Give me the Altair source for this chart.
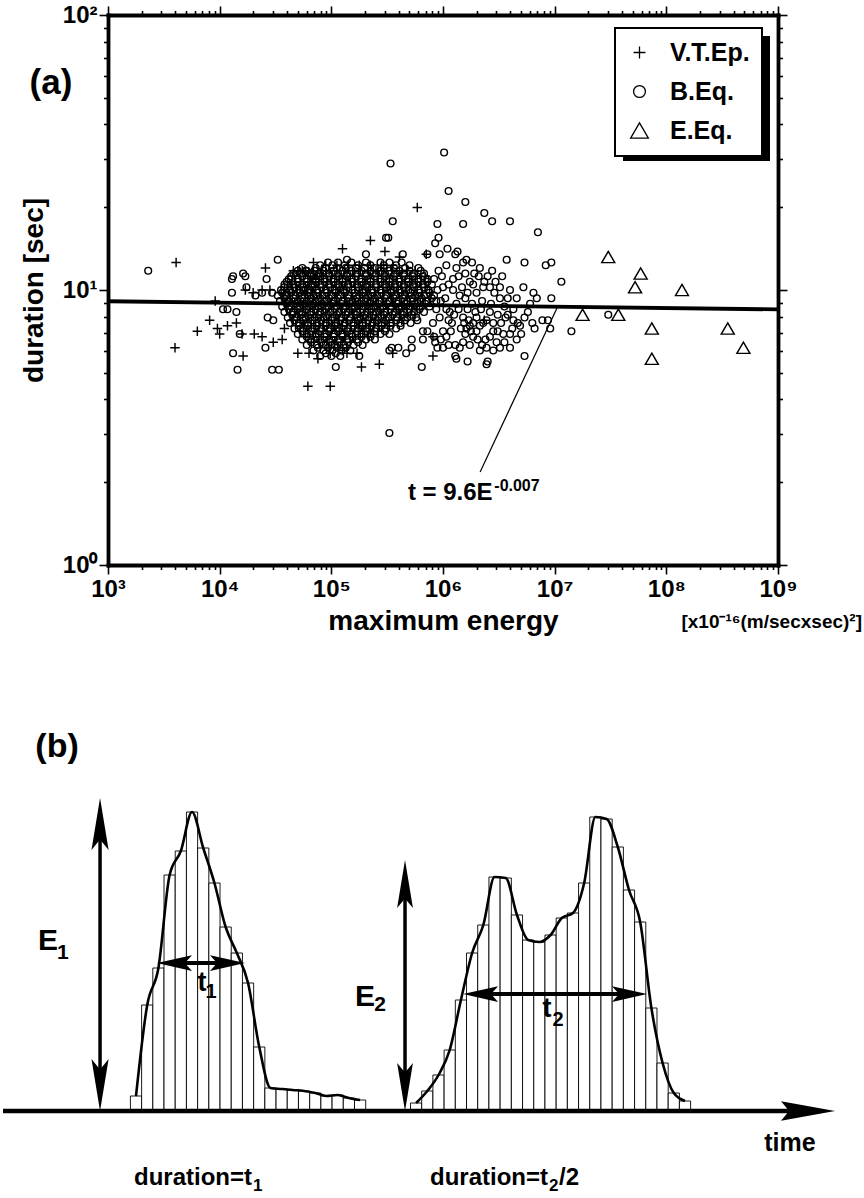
import altair as alt
import pandas as pd

FONT = "Liberation Sans"

# ===================== (a) scatter values: (log10 maximum energy, log10 duration) =====================
series_names = ["V.T.Ep.", "B.Eq.", "E.Eq."]

vt_ep_scattered = [
    (3.61, 1.10), (3.60, 0.79), (3.80, 0.85), (3.91, 0.89), (3.96, 0.96), (3.98, 0.86),
    (4.00, 0.84), (4.07, 0.87), (4.15, 0.88), (4.20, 0.84), (4.21, 0.76), (4.23, 1.00),
    (4.30, 0.99), (4.31, 0.84), (4.38, 1.00), (4.38, 0.83), (4.41, 1.08), (4.45, 1.00),
    (4.48, 0.81), (4.56, 0.82), (4.58, 0.86), (4.64, 1.02), (4.66, 1.07), (4.74, 1.07),
    (4.70, 0.77), (4.79, 0.65), (4.80, 0.77), (4.84, 1.10), (4.88, 0.75), (4.99, 0.65),
    (4.99, 0.77), (5.10, 1.15), (5.10, 0.78), (5.14, 0.77), (5.23, 0.77), (5.27, 0.72),
    (5.35, 1.18), (5.43, 0.73), (5.48, 1.14), (5.55, 0.77), (5.61, 1.12), (5.77, 1.30),
    (5.85, 1.13), (5.91, 0.76), (5.91, 0.83), (6.37, 0.89),
]
# dense (black) core of V.T.Ep., read row by row: log10 duration -> log10 energies
vt_ep_core_rows = {
    1.09: [4.95, 5.05, 5.15, 5.25, 5.35, 5.45, 5.55],
    1.07: [4.70, 4.77, 4.84, 4.91, 4.98, 5.05, 5.12, 5.19, 5.26, 5.33, 5.40, 5.47, 5.54, 5.61, 5.68, 5.75],
    1.05: [4.65, 4.72, 4.79, 4.86, 4.93, 5.00, 5.07, 5.14, 5.21, 5.28, 5.35, 5.42, 5.49, 5.56, 5.63, 5.70, 5.77, 5.84],
    1.03: [4.61, 4.68, 4.75, 4.82, 4.89, 4.96, 5.03, 5.10, 5.17, 5.24, 5.31, 5.38, 5.45, 5.52, 5.59, 5.66, 5.73, 5.80, 5.87],
    1.01: [4.58, 4.65, 4.72, 4.79, 4.86, 4.93, 5.00, 5.07, 5.14, 5.21, 5.28, 5.35, 5.42, 5.49, 5.56, 5.63, 5.70, 5.77, 5.84],
    0.99: [4.55, 4.62, 4.69, 4.76, 4.83, 4.90, 4.97, 5.04, 5.11, 5.18, 5.25, 5.32, 5.39, 5.46, 5.53, 5.60, 5.67, 5.74, 5.81, 5.88],
    0.97: [4.56, 4.63, 4.70, 4.77, 4.84, 4.91, 4.98, 5.05, 5.12, 5.19, 5.26, 5.33, 5.40, 5.47, 5.54, 5.61, 5.68, 5.75, 5.82, 5.89],
    0.95: [4.58, 4.65, 4.72, 4.79, 4.86, 4.93, 5.00, 5.07, 5.14, 5.21, 5.28, 5.35, 5.42, 5.49, 5.56, 5.63, 5.70, 5.77, 5.84],
    0.93: [4.60, 4.67, 4.74, 4.81, 4.88, 4.95, 5.02, 5.09, 5.16, 5.23, 5.30, 5.37, 5.44, 5.51, 5.58, 5.65, 5.72, 5.79],
    0.91: [4.63, 4.70, 4.77, 4.84, 4.91, 4.98, 5.05, 5.12, 5.19, 5.26, 5.33, 5.40, 5.47, 5.54, 5.61, 5.68, 5.75],
    0.89: [4.65, 4.72, 4.79, 4.86, 4.93, 5.00, 5.07, 5.14, 5.21, 5.28, 5.35, 5.42, 5.49, 5.56, 5.63],
    0.87: [4.68, 4.75, 4.82, 4.89, 4.96, 5.03, 5.10, 5.17, 5.24, 5.31, 5.38, 5.45, 5.52],
    0.85: [4.72, 4.79, 4.86, 4.93, 5.00, 5.07, 5.14, 5.21, 5.28, 5.35, 5.42],
    0.83: [4.77, 4.84, 4.91, 4.98, 5.05, 5.12, 5.19, 5.26, 5.33],
    0.81: [4.82, 4.89, 4.96, 5.03, 5.10, 5.17],
    0.79: [4.90, 4.98, 5.06, 5.14],
}

b_eq_scattered = [
    (3.36, 1.07),
    (4.03, 0.93), (4.07, 0.93), (4.11, 1.04), (4.12, 1.05), (4.11, 0.99), (4.12, 0.77),
    (4.15, 0.92), (4.16, 0.71), (4.18, 0.84), (4.21, 1.06), (4.23, 1.05), (4.24, 1.01),
    (4.32, 0.98), (4.38, 0.99), (4.41, 0.79), (4.42, 1.04), (4.43, 0.90), (4.47, 0.99),
    (4.47, 0.71), (4.48, 0.89), (4.52, 1.11), (4.53, 0.71), (4.60, 0.99), (4.75, 1.00),
    (4.78, 1.07), (4.81, 1.00), (4.84, 1.05), (4.87, 1.05),
    (5.04, 0.72), (5.25, 0.76), (5.52, 0.48), (5.81, 0.72),
    (6.01, 1.50), (5.53, 1.46), (6.05, 1.36), (6.20, 1.32), (5.55, 1.25), (6.37, 1.28),
    (6.44, 1.25), (6.60, 1.25), (5.95, 1.24), (6.18, 1.24), (6.85, 1.21), (5.96, 1.19),
    (5.93, 1.17), (5.49, 1.19), (5.51, 1.19),
    (5.64, 1.13), (5.31, 1.13), (5.14, 1.11), (5.86, 1.13), (5.97, 1.13), (6.04, 1.15),
    (6.11, 1.13), (6.13, 1.14), (6.21, 1.11), (6.26, 1.10), (6.18, 1.10), (6.57, 1.11),
    (6.73, 1.10), (6.92, 1.09), (6.97, 1.10), (7.06, 1.03), (6.72, 1.01), (6.81, 0.99),
    (6.84, 0.97), (6.97, 0.97),
    (5.96, 1.07), (5.99, 1.05), (6.09, 1.04), (6.14, 1.05), (6.24, 1.03), (6.27, 1.02),
    (6.33, 1.08), (6.32, 1.05), (6.36, 1.01), (6.42, 1.01), (6.47, 1.03), (6.51, 1.01),
    (6.46, 0.99), (6.51, 0.97), (6.30, 0.99), (6.09, 1.00), (6.00, 1.01), (6.20, 0.97),
    (6.66, 0.97), (6.05, 1.02), (6.17, 1.01), (6.35, 0.96), (6.43, 0.95), (6.55, 0.94),
    (6.12, 0.95), (6.26, 0.95), (6.60, 1.00), (6.02, 0.97), (6.40, 1.05),
    (6.56, 0.90), (6.63, 0.89), (6.67, 0.88), (6.69, 0.87), (6.80, 0.88), (6.82, 0.86),
    (6.89, 0.89), (6.94, 0.89), (6.96, 0.86), (7.15, 0.85), (7.48, 0.91), (6.73, 0.90),
    (6.63, 0.93),
    (6.18, 0.90), (6.24, 0.87), (6.33, 0.87), (6.39, 0.89), (6.45, 0.88), (6.45, 0.85),
    (6.49, 0.85), (6.54, 0.84), (6.60, 0.84), (6.38, 0.82), (6.31, 0.82), (6.27, 0.83),
    (6.19, 0.88), (6.21, 0.86), (6.23, 0.89), (6.25, 0.85), (6.20, 0.84), (6.27, 0.88),
    (6.16, 0.86),
    (6.08, 0.88), (6.07, 0.85), (6.00, 0.85), (6.06, 0.92), (5.97, 0.90), (5.91, 0.88),
    (5.86, 0.85), (5.82, 0.85), (5.77, 0.89), (5.72, 0.82), (5.72, 0.79), (5.67, 0.77),
    (5.60, 0.79), (5.54, 0.79), (5.52, 0.78),
    (6.66, 0.82), (6.60, 0.79), (6.51, 0.79), (6.45, 0.78), (6.39, 0.79), (6.33, 0.78),
    (6.39, 0.73), (6.22, 0.74), (6.15, 0.79), (6.11, 0.80), (6.03, 0.83), (6.00, 0.79),
    (5.95, 0.79), (5.93, 0.81), (5.82, 0.82), (6.12, 0.75), (6.40, 0.74), (6.73, 0.76),
    (6.11, 0.76),
    (5.92, 1.04), (5.95, 1.00), (5.98, 0.96), (5.94, 0.93), (6.03, 0.93), (6.05, 0.89),
    (6.10, 0.91), (6.14, 0.93), (6.15, 0.98), (6.22, 0.99), (6.22, 0.93), (6.29, 0.92),
    (6.34, 0.93), (6.30, 0.90), (6.36, 0.88), (6.42, 0.92), (6.49, 0.91), (6.52, 0.88),
    (6.58, 0.91), (6.58, 0.97), (6.53, 1.05), (6.44, 1.07), (6.37, 1.03), (6.28, 1.06),
    (6.20, 1.06), (6.12, 1.08), (6.03, 1.09), (5.92, 0.83), (5.98, 0.82), (6.05, 0.80),
    (6.18, 0.81), (6.24, 0.80), (6.30, 0.85), (6.35, 0.80), (6.42, 0.83), (6.48, 0.81),
    (6.55, 0.81), (6.62, 0.86), (6.70, 0.84), (6.76, 0.92), (6.78, 0.95),
]
# dense (black) core of B.Eq., read row by row: log10 duration -> log10 energies
b_eq_core_rows = {
    1.10: [4.97, 5.06, 5.18, 5.31, 5.44, 5.52, 5.63],
    1.09: [4.90, 5.01, 5.12, 5.24, 5.35, 5.47, 5.58, 5.70],
    1.08: [4.74, 4.86, 4.95, 5.05, 5.13, 5.22, 5.30, 5.39, 5.47, 5.56, 5.66, 5.78],
    1.07: [4.70, 4.77, 4.85, 4.93, 5.02, 5.10, 5.18, 5.27, 5.35, 5.44, 5.52, 5.61, 5.70, 5.80],
    1.06: [4.66, 4.73, 4.81, 4.89, 4.98, 5.06, 5.14, 5.23, 5.31, 5.40, 5.48, 5.57, 5.65, 5.74, 5.83],
    1.05: [4.64, 4.74, 4.82, 4.90, 4.98, 5.06, 5.14, 5.22, 5.31, 5.39, 5.48, 5.56, 5.65, 5.73, 5.82],
    1.04: [4.62, 4.70, 4.78, 4.86, 4.94, 5.02, 5.10, 5.18, 5.27, 5.35, 5.44, 5.52, 5.61, 5.69, 5.78, 5.86],
    1.03: [4.60, 4.70, 4.78, 4.86, 4.94, 5.02, 5.10, 5.19, 5.27, 5.35, 5.44, 5.52, 5.61, 5.69, 5.78, 5.86],
    1.02: [4.58, 4.66, 4.74, 4.82, 4.90, 4.98, 5.06, 5.15, 5.23, 5.31, 5.40, 5.48, 5.57, 5.65, 5.73, 5.82, 5.90],
    1.01: [4.58, 4.67, 4.75, 4.83, 4.91, 4.99, 5.07, 5.15, 5.24, 5.32, 5.40, 5.49, 5.57, 5.65, 5.74, 5.83],
    1.00: [4.55, 4.63, 4.71, 4.79, 4.87, 4.95, 5.03, 5.11, 5.19, 5.28, 5.36, 5.44, 5.53, 5.61, 5.69, 5.78, 5.87],
    0.99: [4.56, 4.64, 4.72, 4.80, 4.88, 4.96, 5.04, 5.12, 5.21, 5.29, 5.37, 5.45, 5.54, 5.62, 5.71, 5.79, 5.88],
    0.98: [4.52, 4.60, 4.68, 4.76, 4.84, 4.92, 5.00, 5.08, 5.16, 5.25, 5.33, 5.41, 5.49, 5.58, 5.66, 5.75, 5.83, 5.92],
    0.97: [4.58, 4.66, 4.74, 4.82, 4.90, 4.98, 5.06, 5.15, 5.23, 5.31, 5.39, 5.48, 5.56, 5.64, 5.73, 5.81, 5.90],
    0.96: [4.54, 4.62, 4.70, 4.78, 4.86, 4.94, 5.02, 5.10, 5.19, 5.27, 5.35, 5.43, 5.52, 5.60, 5.68, 5.77, 5.85, 5.94],
    0.95: [4.60, 4.68, 4.76, 4.84, 4.92, 5.01, 5.09, 5.17, 5.25, 5.34, 5.42, 5.50, 5.59, 5.67, 5.75, 5.84],
    0.94: [4.56, 4.64, 4.72, 4.80, 4.88, 4.96, 5.05, 5.13, 5.21, 5.29, 5.38, 5.46, 5.54, 5.63, 5.71, 5.79, 5.88],
    0.93: [4.62, 4.70, 4.78, 4.86, 4.95, 5.03, 5.11, 5.19, 5.28, 5.36, 5.44, 5.53, 5.61, 5.70, 5.79],
    0.92: [4.58, 4.66, 4.74, 4.82, 4.90, 4.99, 5.07, 5.15, 5.23, 5.32, 5.40, 5.48, 5.57, 5.65, 5.74, 5.83],
    0.91: [4.65, 4.73, 4.81, 4.89, 4.97, 5.05, 5.13, 5.22, 5.30, 5.38, 5.47, 5.55, 5.64, 5.72],
    0.90: [4.61, 4.69, 4.77, 4.85, 4.93, 5.01, 5.09, 5.17, 5.26, 5.34, 5.42, 5.51, 5.59, 5.68, 5.76],
    0.89: [4.67, 4.75, 4.83, 4.91, 5.00, 5.08, 5.16, 5.24, 5.33, 5.41, 5.49, 5.58, 5.66],
    0.88: [4.63, 4.71, 4.79, 4.87, 4.95, 5.04, 5.12, 5.20, 5.28, 5.37, 5.45, 5.53, 5.62, 5.71],
    0.87: [4.71, 4.79, 4.87, 4.95, 5.03, 5.11, 5.20, 5.28, 5.36, 5.45, 5.53, 5.62],
    0.86: [4.67, 4.75, 4.83, 4.91, 4.99, 5.07, 5.15, 5.24, 5.32, 5.40, 5.49, 5.58],
    0.85: [4.74, 4.82, 4.90, 4.98, 5.06, 5.14, 5.23, 5.31, 5.39, 5.48],
    0.84: [4.70, 4.78, 4.86, 4.94, 5.02, 5.10, 5.18, 5.27, 5.35, 5.44, 5.52],
    0.83: [4.78, 4.86, 4.94, 5.02, 5.10, 5.19, 5.27, 5.35],
    0.82: [4.74, 4.82, 4.90, 4.98, 5.06, 5.14, 5.23, 5.31, 5.39],
    0.81: [4.82, 4.91, 4.99, 5.07, 5.15, 5.24],
    0.80: [4.78, 4.87, 4.95, 5.03, 5.11, 5.20, 5.28],
    0.79: [4.88, 4.97, 5.05, 5.13],
    0.78: [4.84, 4.93, 5.01, 5.09, 5.17],
    0.77: [4.95, 5.04],
    0.76: [4.90, 5.00, 5.08],
}

e_eq_points = [
    (7.48, 1.12), (7.77, 1.06), (7.72, 1.01), (8.14, 1.00), (7.25, 0.91),
    (7.57, 0.91), (7.87, 0.86), (8.55, 0.86), (8.69, 0.79), (7.87, 0.75),
]

# regression line t = 9.6 E^-0.007, read at both ends of the energy axis
fit_energy = [1e3, 1e9]
fit_duration = [9.1, 8.5]
# leader line from the regression line to its label
leader_energy = [1.05e7, 2.15e6]
leader_duration = [8.6, 2.18]
formula_main = ("t = 9.6E", 4.85e5, 1.72)
formula_sup = ("-0.007", 2.88e6, 1.86)

x_tick_labels = ["10³", "10⁴", "10⁵", "10⁶", "10⁷", "10⁸", "10⁹"]
y_tick_labels = ["10⁰", "10¹", "10²"]

# ===================== (b) schematic values =====================
pulse1_start = 2
pulse1_heights = [15, 106, 143, 236, 260, 299, 263, 228, 184, 158, 128, 64, 23,
                  22, 21, 20, 18, 15, 16, 13, 11]
pulse2_start = 27
pulse2_heights = [8, 20, 36, 61, 111, 158, 186, 234, 233, 196, 171, 169, 176, 193,
                  198, 228, 294, 292, 264, 221, 189, 103, 48, 18, 10]

# arrow shafts: (x, y, x2, y2, stroke width)
arrow_shafts = [
    (-9.37, 0, 61.3, 0, 4.5),      # time axis
    (-0.71, 20, -0.71, 293, 3.5),  # E1
    (26.51, 20, 26.51, 231, 3.5),  # E2
    (5.71, 148, 10.89, 148, 4),    # t1
    (33.03, 117, 46.77, 117, 4),   # t2
]
head_paths = {
    "up": "M0,0L0.33,2L0,1.6L-0.33,2Z",
    "down": "M0,0L0.33,-2L0,-1.6L-0.33,-2Z",
    "time": "M0,0L-2,0.36L-1.7,0L-2,-0.36Z",
    "left": "M0,0L2,0.45L1.6,0L2,-0.45Z",
    "right": "M0,0L-2,0.45L-1.6,0L-2,-0.45Z",
}
# arrow heads: (x, y, direction, length)
arrow_heads = [
    (64.89, 0, "time", 54),
    (-0.71, 313, "up", 52), (-0.71, 0, "down", 52),
    (26.51, 251, "up", 48), (26.51, 0, "down", 48),
    (4.37, 148, "left", 35), (12.23, 148, "right", 35),
    (31.69, 117, "left", 35), (48.11, 117, "right", 35),
]
# labels: (x, y, text, font size)
labels_center = [
    (-4.55, 364, "(b)", 34),
    (-5.36, 170, "E", 30), (-4.02, 158, "1", 21),
    (22.94, 114, "E", 30), (24.28, 106, "2", 21),
    (8.39, 128, "t", 27), (9.19, 119, "1", 20),
    (39.18, 102, "t", 27), (40.16, 91, "2", 20),
    (60.87, -32, "time", 25),
]
labels_right = [
    (12.85, -67, "duration=t", 24),
    (39.27, -67, "duration=t", 24),
]
labels_left = [
    (12.94, -75, "1", 17),
    (39.36, -75, "2", 17),
    (40.25, -67, "/2", 24),
]

# ===================== build tables =====================
cross_path = "M-1,0L1,0M0,-1L0,1"
tri_path = "M0,-1.3L1.5,1.3L-1.5,1.3Z"
shape_range = [cross_path, "circle", tri_path]
size_of = {"V.T.Ep.": 90, "B.Eq.": 45, "E.Eq.": 75}

rows = []
for le, lt in b_eq_scattered:
    rows.append(("B.Eq.", le, lt))
for lt, les in b_eq_core_rows.items():
    for le in les:
        rows.append(("B.Eq.", le, lt))
for le, lt in vt_ep_scattered:
    rows.append(("V.T.Ep.", le, lt))
for lt, les in vt_ep_core_rows.items():
    for le in les:
        rows.append(("V.T.Ep.", le, lt))
for le, lt in e_eq_points:
    rows.append(("E.Eq.", le, lt))
pts = pd.DataFrame(rows, columns=["type", "logE", "logT"])
pts["E"] = 10 ** pts["logE"]
pts["t"] = 10 ** pts["logT"]
pts["sz"] = pts["type"].map(size_of)

fit_df = pd.DataFrame({"E": fit_energy, "t": fit_duration})
leader_df = pd.DataFrame({"E": [leader_energy[0]], "t": [leader_duration[0]],
                          "E2": [leader_energy[1]], "t2": [leader_duration[1]]})
fmain_df = pd.DataFrame({"label": [formula_main[0]], "E": [formula_main[1]], "t": [formula_main[2]]})
fsup_df = pd.DataFrame({"label": [formula_sup[0]], "E": [formula_sup[1]], "t": [formula_sup[2]]})
one = pd.DataFrame({"k": [0]})


def label_expr(vals, labels):
    s = "''"
    for v, l in reversed(list(zip(vals, labels))):
        s = f"datum.value === {v} ? '{l}' : {s}"
    return s


x_major = [10 ** k for k in range(3, 10)]
x_minor = [m * 10 ** k for k in range(3, 9) for m in range(2, 10)]
y_major = [1, 10, 100]
y_minor = [m * 10 ** k for k in range(0, 2) for m in range(2, 10)]

x_scale = alt.Scale(type="log", domain=[1e3, 1e9], nice=False)
y_scale = alt.Scale(type="log", domain=[1, 100], nice=False)

ax_bottom = alt.Axis(orient="bottom", values=x_major, labelExpr=label_expr(x_major, x_tick_labels),
                     tickSize=9, labelPadding=3, labelOverlap=False, labelFlush=False,
                     title="maximum energy", titlePadding=6)
ax_left = alt.Axis(orient="left", values=y_major, labelExpr=label_expr(y_major, y_tick_labels),
                   tickSize=9, labelPadding=2, labelOverlap=False, title="duration [sec]",
                   titlePadding=14)
ax_top = alt.Axis(orient="top", values=x_major, labels=False, tickSize=9, title=None)
ax_right = alt.Axis(orient="right", values=y_major, labels=False, tickSize=9, title=None)
ax_bottom_minor = alt.Axis(orient="bottom", values=x_minor, labels=False, tickSize=4.5,
                           domain=False, title=None)
ax_left_minor = alt.Axis(orient="left", values=y_minor, labels=False, tickSize=4.5,
                         domain=False, title=None)
ax_top_minor = alt.Axis(orient="top", values=x_minor, labels=False, tickSize=4.5,
                        domain=False, title=None)
ax_right_minor = alt.Axis(orient="right", values=y_minor, labels=False, tickSize=4.5,
                          domain=False, title=None)

PW, PH = 670, 550

shadow = alt.Chart(one).mark_rect(color="black").encode(
    x=alt.value(515), x2=alt.value(662), y=alt.value(21), y2=alt.value(146))

points = alt.Chart(pts).mark_point(filled=False, color="black", strokeWidth=1.45, opacity=1).encode(
    x=alt.X("E:Q", scale=x_scale, axis=ax_bottom),
    y=alt.Y("t:Q", scale=y_scale, axis=ax_left),
    shape=alt.Shape("type:N", scale=alt.Scale(domain=series_names, range=shape_range),
                    legend=alt.Legend(title=None, orient="none", legendX=507, legendY=13)),
    size=alt.Size("sz:Q", scale=None),
)

fit = alt.Chart(fit_df).mark_line(color="black", strokeWidth=3.8).encode(
    x=alt.X("E:Q", scale=x_scale, axis=ax_top),
    y=alt.Y("t:Q", scale=y_scale, axis=ax_right),
)

leader = alt.Chart(leader_df).mark_rule(color="black", strokeWidth=1.2).encode(
    x=alt.X("E:Q", scale=x_scale, axis=ax_bottom_minor),
    y=alt.Y("t:Q", scale=y_scale, axis=ax_left_minor),
    x2="E2:Q", y2="t2:Q",
)

fmain = alt.Chart(fmain_df).mark_text(font=FONT, fontWeight="bold", fontSize=24, align="left",
                                      baseline="alphabetic", color="black").encode(
    x=alt.X("E:Q", scale=x_scale, axis=ax_top_minor),
    y=alt.Y("t:Q", scale=y_scale, axis=ax_right_minor),
    text="label:N",
)
fsup = alt.Chart(fsup_df).mark_text(font=FONT, fontWeight="bold", fontSize=16, align="left",
                                    baseline="alphabetic", color="black").encode(
    x=alt.X("E:Q", scale=x_scale, axis=None),
    y=alt.Y("t:Q", scale=y_scale, axis=None),
    text="label:N",
)

tag_a = alt.Chart(pd.DataFrame({"label": ["(a)"]})).mark_text(
    font=FONT, fontWeight="bold", fontSize=35, color="black").encode(
    x=alt.value(-57), y=alt.value(68), text="label:N")
unit = alt.Chart(pd.DataFrame({"label": ["[x10⁻¹⁶(m/secxsec)²]"]})).mark_text(
    font=FONT, fontWeight="bold", fontSize=19, align="right", color="black").encode(
    x=alt.value(754), y=alt.value(607), text="label:N")
bound = alt.Chart(one).mark_rule(color="black", strokeOpacity=0).encode(
    x=alt.value(-108), y=alt.value(-15), y2=alt.value(650))

panel_a = alt.layer(shadow, points, fit, leader, fmain, fsup, tag_a, unit, bound).resolve_axis(
    x="independent", y="independent").properties(width=PW, height=PH)

# ---------- panel (b) ----------
bar_rows = []
for i, h in enumerate(pulse1_heights):
    t0 = pulse1_start + i
    bar_rows.append(("p1", t0, t0 + 1, t0 + 0.5, h))
for i, h in enumerate(pulse2_heights):
    t0 = pulse2_start + i
    bar_rows.append(("p2", t0, t0 + 1, t0 + 0.5, h))
bars_df = pd.DataFrame(bar_rows, columns=["pulse", "t0", "t1", "tc", "h"])
bars_df["zero"] = 0

shafts_df = pd.DataFrame(arrow_shafts, columns=["x", "y", "x2", "y2", "w"])
heads_df = pd.DataFrame(arrow_heads, columns=["x", "y", "dir", "L"])
heads_df["path"] = heads_df["dir"].map(head_paths)
heads_df["size"] = heads_df["L"] ** 2
lc_df = pd.DataFrame(labels_center, columns=["x", "y", "text", "fs"])
lr_df = pd.DataFrame(labels_right, columns=["x", "y", "text", "fs"])
ll_df = pd.DataFrame(labels_left, columns=["x", "y", "text", "fs"])

tx = alt.Scale(domain=[0, 59.8], nice=False, zero=False)
ty = alt.Scale(domain=[-87, 411], nice=False, zero=False)

bars = alt.Chart(bars_df).mark_rect(fill="white", stroke="black", strokeWidth=0.9).encode(
    x=alt.X("t0:Q", scale=tx, axis=None), x2="t1:Q",
    y=alt.Y("zero:Q", scale=ty, axis=None), y2="h:Q",
)
envelope = alt.Chart(bars_df).mark_line(color="black", strokeWidth=2.6, interpolate="monotone").encode(
    x=alt.X("tc:Q", scale=tx, axis=None),
    y=alt.Y("h:Q", scale=ty, axis=None),
    detail="pulse:N",
)
shafts = alt.Chart(shafts_df).mark_rule(color="black").encode(
    x=alt.X("x:Q", scale=tx, axis=None), y=alt.Y("y:Q", scale=ty, axis=None),
    x2="x2:Q", y2="y2:Q", strokeWidth=alt.StrokeWidth("w:Q", scale=None),
)
heads = alt.Chart(heads_df).mark_point(filled=True, color="black", opacity=1, strokeWidth=0.5).encode(
    x=alt.X("x:Q", scale=tx, axis=None), y=alt.Y("y:Q", scale=ty, axis=None),
    shape=alt.Shape("path:N", scale=None), size=alt.Size("size:Q", scale=None),
)


def text_layer(df, align):
    return alt.Chart(df).mark_text(font=FONT, fontWeight="bold", color="black", align=align,
                                   baseline="middle").encode(
        x=alt.X("x:Q", scale=tx, axis=None), y=alt.Y("y:Q", scale=ty, axis=None),
        text="text:N", size=alt.Size("fs:Q", scale=None),
    )


panel_b = alt.layer(bars, envelope, shafts, heads, text_layer(lc_df, "center"),
                    text_layer(lr_df, "right"), text_layer(ll_df, "left")).properties(
    width=PW, height=498)

chart = alt.vconcat(panel_a, panel_b, spacing=35, padding=0, background="white").configure_view(
    strokeWidth=0).configure_axis(
    labelFont=FONT, titleFont=FONT, labelFontWeight="bold", titleFontWeight="bold",
    labelColor="black", titleColor="black", domainColor="black", tickColor="black",
    domainWidth=3.8, tickWidth=1.6, grid=False, labelFontSize=24, titleFontSize=28,
    domainCap="square").configure_legend(
    labelFont=FONT, labelFontSize=25, labelFontWeight="bold", labelColor="black",
    symbolSize=140, symbolStrokeWidth=1.3, symbolStrokeColor="black", rowPadding=13,
    padding=12, labelOffset=18, strokeColor="black", strokeWidth=2, fillColor="white")

chart.save("out.html", embed_options={"renderer": "svg", "actions": False})
